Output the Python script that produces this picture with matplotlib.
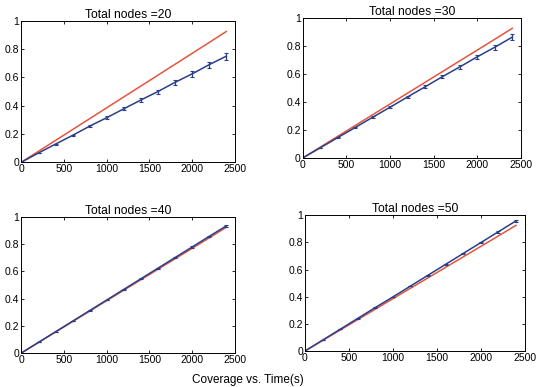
import matplotlib.pyplot as plt
import numpy as np

plt.rcParams['font.family'] = ['Liberation Sans', 'DejaVu Sans']

# time (s)
t = [0, 200, 400, 600, 800, 1000, 1200, 1400, 1600, 1800, 2000, 2200, 2400]

# theoretical coverage (red), same in every panel
theory = [0, 0.077, 0.154, 0.231, 0.308, 0.385, 0.462, 0.539, 0.616, 0.693, 0.770, 0.847, 0.925]

# simulated coverage (blue) per node count
nodes = [20, 30, 40, 50]
sim = {
    20: [0, 0.065, 0.128, 0.19, 0.255, 0.315, 0.378, 0.44, 0.50, 0.565, 0.625, 0.69, 0.75],
    30: [0, 0.072, 0.145, 0.217, 0.29, 0.362, 0.435, 0.507, 0.58, 0.65, 0.722, 0.79, 0.862],
    40: [0, 0.078, 0.156, 0.234, 0.312, 0.39, 0.468, 0.546, 0.624, 0.702, 0.78, 0.858, 0.935],
    50: [0, 0.08, 0.16, 0.24, 0.32, 0.398, 0.478, 0.558, 0.638, 0.718, 0.798, 0.878, 0.958],
}
err = {
    20: [0, 0.002, 0.004, 0.005, 0.007, 0.009, 0.011, 0.012, 0.014, 0.016, 0.02, 0.022, 0.025],
    30: [0, 0.002, 0.003, 0.004, 0.006, 0.008, 0.01, 0.011, 0.012, 0.013, 0.015, 0.018, 0.022],
    40: [0, 0.001, 0.001, 0.002, 0.002, 0.003, 0.003, 0.004, 0.004, 0.005, 0.005, 0.006, 0.008],
    50: [0, 0.001, 0.001, 0.002, 0.002, 0.003, 0.003, 0.004, 0.004, 0.005, 0.005, 0.006, 0.008],
}

# axes boxes in figure fractions [left, bottom, width, height]
boxes = [
    [0.040, 0.581, 0.398, 0.365],
    [0.565, 0.592, 0.407, 0.362],
    [0.040, 0.088, 0.398, 0.351],
    [0.569, 0.093, 0.41, 0.351],
]

red = '#e4553f'
blue = '#2a3f8a'

fig = plt.figure(figsize=(5.36, 3.87), dpi=100)

for n, box in zip(nodes, boxes):
    ax = fig.add_axes(box)
    ax.plot(t, theory, color=red, lw=1.1)
    ax.errorbar(t, sim[n], yerr=err[n], color=blue, lw=1.1, elinewidth=0.9,
                capsize=1.5, capthick=0.8)
    ax.set_xlim(0, 2500)
    ax.set_ylim(0, 1)
    ax.set_xticks([0, 500, 1000, 1500, 2000, 2500])
    ax.set_yticks([0, 0.2, 0.4, 0.6, 0.8, 1])
    ax.set_yticklabels(['0', '0.2', '0.4', '0.6', '0.8', '1'])
    ax.tick_params(direction='in', top=True, right=True, labelsize=7.5, length=2.5,
                   width=0.6, pad=1.5)
    for s in ax.spines.values():
        s.set_linewidth(0.7)
    ax.set_title('Total nodes =%d' % n, fontsize=8.7, pad=2)

fig.text(0.463, 0.003, 'Coverage vs. Time(s)', ha='center', va='bottom', fontsize=8.5)

fig.savefig('out.png', dpi=100)
